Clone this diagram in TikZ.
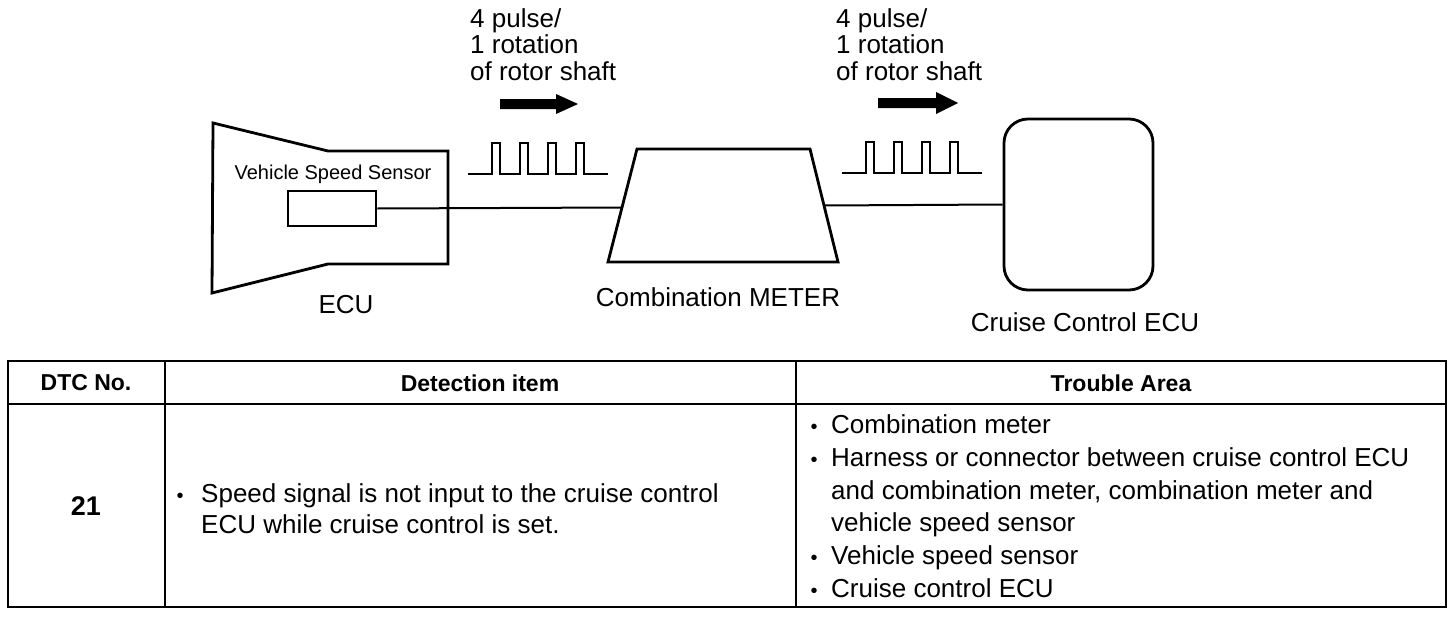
\documentclass[tikz,border=0pt]{standalone}
\usepackage{fontspec}
\setmainfont{Liberation Sans}
\tikzset{
  outl/.style={line width=2.8pt, line join=miter},
  wirel/.style={line width=2pt},
  wavel/.style={line width=2.4pt, line join=miter},
  tbl/.style={line width=2pt},
  lbl/.style={inner sep=0pt, font=\fontsize{26}{26.5}\selectfont},
  hdr/.style={inner sep=0pt, font=\fontsize{23}{26}\selectfont\bfseries},
  txt/.style={inner sep=0pt, anchor=base west, font=\fontsize{26}{30}\selectfont},
  bul/.style={inner sep=0pt, anchor=base, font=\fontsize{20}{20}\selectfont},
  pics/pulses/.style={code={
    \draw[wavel] (0,0) -- (24,0) -- (24,-31) -- (32,-31) -- (32,0)
      -- (52,0) -- (52,-31) -- (60,-31) -- (60,0)
      -- (80,0) -- (80,-31) -- (88,-31) -- (88,0)
      -- (108,0) -- (108,-31) -- (116,-31) -- (116,0) -- (140,0);
  }}
}
\begin{document}
\begin{tikzpicture}[x=1pt,y=-1pt]
\useasboundingbox (0,0) rectangle (1456,618);

% ECU housing
\draw[outl] (213,123) -- (328,151) -- (448,151) -- (448,264) -- (328,264) -- (212,293) -- cycle;
\node[lbl, font=\fontsize{20}{20}\selectfont] (vsslbl) at (333,174) {Vehicle Speed Sensor};
\node[draw, outl, minimum width=88pt, minimum height=35pt, inner sep=0pt] (vss) at (332,208.5) {};
\node[lbl] (ecu) at (346,305) {ECU};

% Combination meter
\draw[outl] (608,262) -- (637,149) -- (810,149) -- (838,262) -- cycle;
\coordinate (mL) at (622.5,207.5);
\coordinate (mR) at (824,205.5);
\node[lbl] (meter) at (718,297) {Combination METER};

% Cruise control ECU
\node[draw, outl, rounded corners=24pt, minimum width=149pt, minimum height=171pt, inner sep=0pt] (cc) at (1078.5,204.5) {};
\node[lbl] (cclbl) at (1085,322) {Cruise Control ECU};

% wires
\draw[wirel] (vss.east) -- (mL);
\draw[wirel] (mR) -- (cc.west);

% pulse trains
\pic at (468,174) {pulses};
\pic at (842,173) {pulses};

% labels
\node[lbl, anchor=north west, align=left] (p1) at (470,8) {4 pulse/\\1 rotation\\of rotor shaft};
\node[lbl, anchor=north west, align=left] (p2) at (836,8) {4 pulse/\\1 rotation\\of rotor shaft};

% thick arrows
\fill (500,99) -- (556,99) -- (556,94) -- (578,104) -- (556,114) -- (556,109) -- (500,109) -- cycle;
\fill (878,98) -- (936,98) -- (936,92) -- (958,103) -- (936,114) -- (936,108) -- (878,108) -- cycle;

% table
\draw[tbl] (8,361) rectangle (1446,607);
\draw[tbl] (8,404) -- (1446,404);
\draw[tbl] (165,361) -- (165,607);
\draw[tbl] (796,361) -- (796,607);

\node[hdr] (h1) at (86,383) {DTC No.};
\node[hdr] (h2) at (480,383) {Detection item};
\node[hdr] (h3) at (1121,383) {Trouble Area};

\node[inner sep=0pt, font=\fontsize{27}{27}\selectfont\bfseries] (dtc) at (86,506) {21};

\node[bul] (b0) at (180,502) {•};
\node[txt] (d1) at (201,502) {Speed signal is not input to the cruise control};
\node[txt] (d2) at (201,533) {ECU while cruise control is set.};

\node[bul] (b1) at (814,433) {•};
\node[txt] (t1) at (831,433) {Combination meter};
\node[bul] (b2) at (814,466) {•};
\node[txt] (t2) at (831,466) {Harness or connector between cruise control ECU};
\node[txt] (t3) at (831,499) {and combination meter, combination meter and};
\node[txt] (t4) at (831,531) {vehicle speed sensor};
\node[bul] (b3) at (814,564) {•};
\node[txt] (t5) at (831,564) {Vehicle speed sensor};
\node[bul] (b4) at (814,597) {•};
\node[txt] (t6) at (831,597) {Cruise control ECU};
\end{tikzpicture}
\end{document}
